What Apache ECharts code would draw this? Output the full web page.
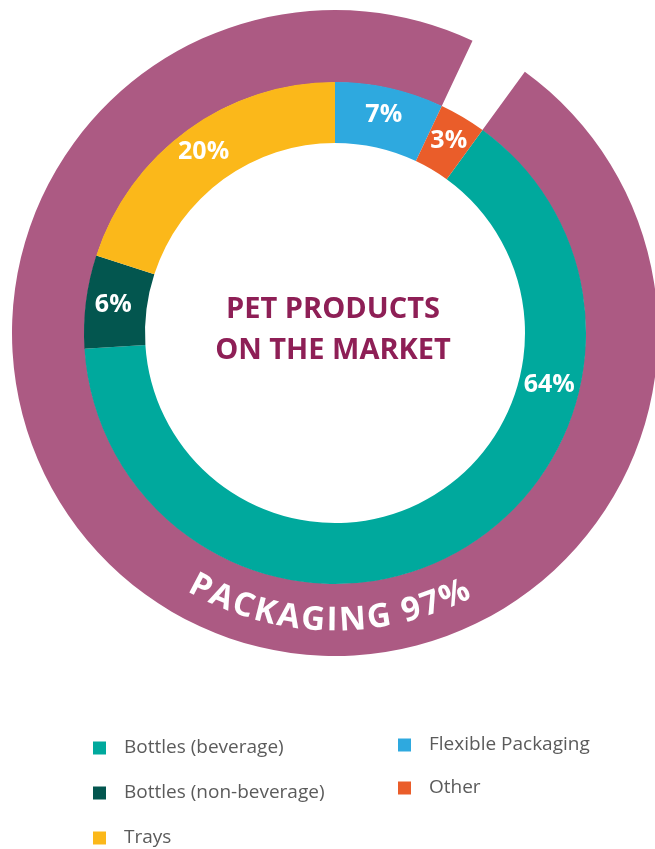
<!DOCTYPE html>
<html>
<head>
<meta charset="utf-8">
<script src="https://cdn.jsdelivr.net/npm/echarts@6/dist/echarts.min.js"></script>
<style>
html,body{margin:0;padding:0;background:#fff;}
#chart{width:655px;height:849px;}
</style>
</head>
<body>
<div id="chart"></div>
<script>
// ---- data ----
const categories = ['Bottles (beverage)', 'Bottles (non-beverage)', 'Trays', 'Flexible Packaging', 'Other'];
const shares = [64, 6, 20, 7, 3];
const outerNames = ['Packaging', 'Non-packaging gap'];
const outerShares = [97, 3];
const centerTitle = 'PET PRODUCTS\nON THE MARKET';
const arcLabel = 'PACKAGING 97%';

// ---- style ----
const colors = ['#00A99D', '#03564F', '#FBB81A', '#2EA9DF', '#EA5D2A'];
const purple = '#AC5A83';
const titleColor = '#8E1F56';
const FONT = '"Open Sans", "Noto Sans", sans-serif';
const CX = 335, CY = 333;
const R_IN0 = 190, R_IN1 = 251, R_OUT1 = 323;
const START = 54;
const label64Angle = 103.6; // degrees clockwise from top

const chart = echarts.init(document.getElementById('chart'), null, {renderer: 'canvas'});

// curved text along bottom of outer ring
function arcTextGraphics() {
  const c = document.createElement('canvas').getContext('2d');
  const fs = 33;
  const font = 'bold ' + fs + 'px ' + FONT;
  c.font = font;
  const R = (R_IN1 + R_OUT1) / 2 + 1;
  const ls = 1.5;
  const chars = arcLabel.split('');
  const widths = chars.map(ch => c.measureText(ch).width);
  const total = widths.reduce((a, b) => a + b, 0) + ls * (chars.length - 1);
  const centerAngle = -1.2 * Math.PI / 180;
  let cum = centerAngle - total / (2 * R);
  const out = [];
  chars.forEach((ch, i) => {
    const a = cum + (widths[i] / 2) / R;
    cum += (widths[i] + ls) / R;
    if (ch === ' ') return;
    out.push({
      type: 'text',
      x: CX + R * Math.sin(a),
      y: CY + R * Math.cos(a),
      rotation: a,
      silent: true,
      z: 100,
      style: {
        text: ch, fill: '#fff', font: font,
        textAlign: 'center', textVerticalAlign: 'middle'
      }
    });
  });
  return out;
}

const innerData = categories.map((n, i) => ({name: n, value: shares[i], itemStyle: {color: colors[i]}}));
const outerData = outerNames.map((n, i) => ({
  name: n, value: outerShares[i],
  itemStyle: {color: i === 0 ? purple : 'rgba(0,0,0,0)'}
}));

const legendText = {fontFamily: FONT, fontSize: 19, color: '#5b5b5b', padding: [0, 0, 0, 13], lineHeight: 20};

const option = {
  backgroundColor: '#fff',
  animation: false,
  legend: [
    {
      data: categories.slice(0, 3),
      orient: 'vertical', left: 93, top: 738, padding: 0,
      itemWidth: 13, itemHeight: 13, itemGap: 25, icon: 'rect',
      textStyle: legendText
    },
    {
      data: categories.slice(3),
      orient: 'vertical', left: 398, top: 735, padding: 0,
      itemWidth: 13, itemHeight: 13, itemGap: 23, icon: 'rect',
      textStyle: legendText
    }
  ],
  series: [
    {
      type: 'pie', name: 'outer',
      center: [CX, CY], radius: [R_IN1 - 0.5, R_OUT1],
      startAngle: START, clockwise: true,
      silent: true, avoidLabelOverlap: false,
      label: {show: false}, labelLine: {show: false},
      itemStyle: {borderWidth: 0},
      emphasis: {disabled: true},
      data: outerData
    },
    {
      type: 'pie', name: 'inner',
      center: [CX, CY], radius: [R_IN0, R_IN1],
      startAngle: START, clockwise: true,
      avoidLabelOverlap: false,
      itemStyle: {borderWidth: 0},
      emphasis: {disabled: true},
      label: {
        show: true, position: 'inside',
        formatter: '{c}%', color: '#fff',
        fontFamily: FONT, fontWeight: 'bold', fontSize: 25
      },
      labelLine: {show: false},
      labelLayout: function (p) {
        if (p.dataIndex === 0) {
          const a = label64Angle * Math.PI / 180;
          const r = (R_IN0 + R_IN1) / 2;
          return {x: CX + r * Math.sin(a), y: CY - r * Math.cos(a), align: 'center', verticalAlign: 'middle'};
        }
        return {};
      },
      data: innerData
    }
  ],
  graphic: [
    {
      type: 'text', x: CX - 2, y: CY - 3, silent: true, z: 100,
      style: {
        text: centerTitle, fill: titleColor,
        font: 'bold 29px ' + FONT, lineHeight: 41,
        textAlign: 'center', textVerticalAlign: 'middle'
      }
    }
  ].concat(arcTextGraphics())
};
chart.setOption(option);
</script>
</body>
</html>
